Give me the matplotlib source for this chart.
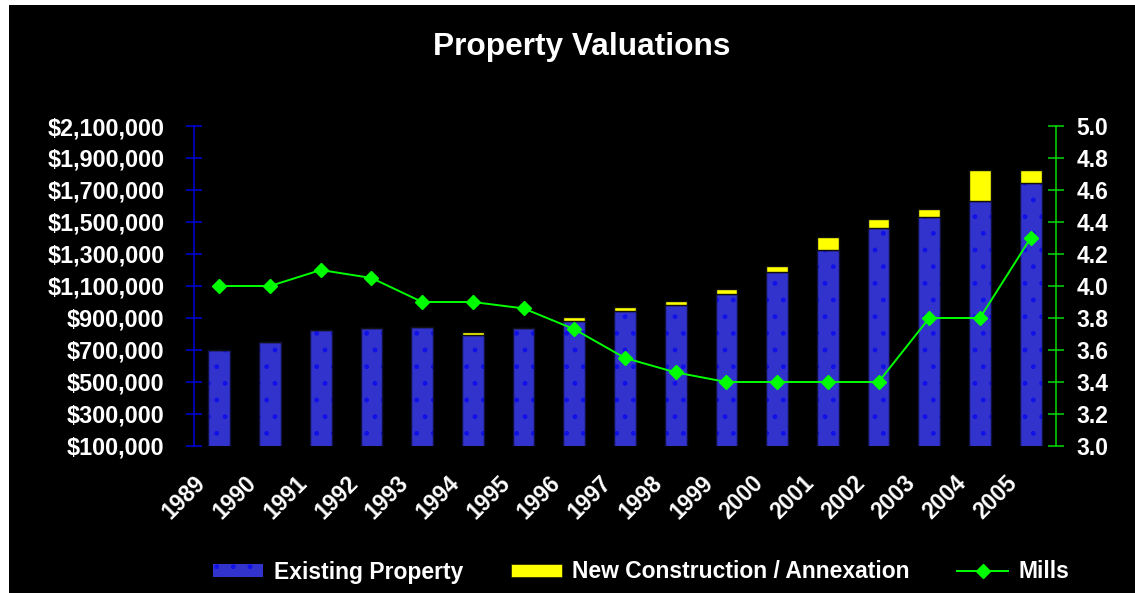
import matplotlib
matplotlib.use("Agg")
import matplotlib.pyplot as plt
import matplotlib.transforms as mtransforms
from matplotlib.patches import Patch, Rectangle
from matplotlib.lines import Line2D
from matplotlib.ticker import FuncFormatter

plt.rcParams['font.family'] = ['Liberation Sans', 'DejaVu Sans']
plt.rcParams['hatch.linewidth'] = 1.0

years = ['1989', '1990', '1991', '1992', '1993', '1994', '1995', '1996', '1997',
         '1998', '1999', '2000', '2001', '2002', '2003', '2004', '2005']
existing = [700000, 750000, 825000, 835000, 845000, 795000, 835000, 883000, 946000,
            981000, 1052000, 1190000, 1325000, 1460000, 1531000, 1629000, 1742000]
new_constr = [0, 0, 0, 0, 0, 20000, 0, 25000, 23000,
              25000, 29000, 37000, 83000, 58000, 50000, 196000, 83000]
mills = [4.0, 4.0, 4.1, 4.05, 3.9, 3.9, 3.86, 3.73, 3.55,
         3.46, 3.4, 3.4, 3.4, 3.4, 3.8, 3.8, 4.3]
value_ticks = [100000, 300000, 500000, 700000, 900000, 1100000,
               1300000, 1500000, 1700000, 1900000, 2100000]
mills_ticks = [3.0, 3.2, 3.4, 3.6, 3.8, 4.0, 4.2, 4.4, 4.6, 4.8, 5.0]

W, H = 1135, 593
fig = plt.figure(figsize=(W / 100, H / 100), dpi=100, facecolor='white')
fig.add_artist(Rectangle((9 / W, 0), 1 - 9 / W, 1 - 5 / H, transform=fig.transFigure,
                         facecolor='black', edgecolor='none', zorder=-10))

left, right, top, bottom = 194 / W, 1056 / W, 1 - 126 / H, 1 - 446 / H
ax = fig.add_axes([left, bottom, right - left, top - bottom])
ax.set_facecolor('none')

x = list(range(len(years)))
bw = 0.43
blue = '#3232CC'
ax.bar(x, existing, width=bw, color=blue, edgecolor='#1010E8', linewidth=0,
       hatch='.', zorder=2)
ax.bar(x, existing, width=bw, facecolor='none', edgecolor='#101040', linewidth=1.0, zorder=3)
ax.bar(x, new_constr, width=bw, bottom=existing, color='#FFFF00', edgecolor='#101010',
       linewidth=1.0, zorder=3)

ax.set_xlim(-0.5, len(years) - 0.5)
ax.set_ylim(value_ticks[0], value_ticks[-1])
ax.set_yticks(value_ticks)
ax.yaxis.set_major_formatter(FuncFormatter(lambda v, p: f"${v:,.0f}"))

lblue = '#0000CC'
for s in ['top', 'bottom', 'right']:
    ax.spines[s].set_visible(False)
ax.spines['left'].set_color(lblue)
ax.spines['left'].set_linewidth(1.2)
ax.tick_params(axis='y', direction='inout', length=11.5, width=1.2, color=lblue,
               labelcolor='white', labelsize=16.8, pad=15.5)
for t in ax.get_yticklabels():
    t.set_fontweight('bold')

ax.set_xticks(x)
ax.set_xticklabels(years, rotation=45, ha='right', fontsize=16.5, fontweight='bold', color='white')
ax.tick_params(axis='x', length=0, pad=18)
offset = mtransforms.ScaledTranslation(-9 / 100, 0, fig.dpi_scale_trans)
for t in ax.get_xticklabels():
    t.set_transform(t.get_transform() + offset)

ax2 = ax.twinx()
ax2.set_facecolor('none')
green = '#00FF00'
ax2.plot(x, mills, color=green, linewidth=1.4, marker='D', markersize=7,
         markeredgecolor=green, markerfacecolor=green, zorder=5)
ax2.set_ylim(mills_ticks[0], mills_ticks[-1])
ax2.set_yticks(mills_ticks)
ax2.yaxis.set_major_formatter(FuncFormatter(lambda v, p: f"{v:.1f}"))
for s in ['top', 'bottom', 'left']:
    ax2.spines[s].set_visible(False)
gcol = '#00CC00'
ax2.spines['right'].set_color(gcol)
ax2.spines['right'].set_linewidth(1.2)
ax2.tick_params(axis='y', direction='inout', length=11.5, width=1.2, color=gcol,
                labelcolor='white', labelsize=16.5, pad=9)
for t in ax2.get_yticklabels():
    t.set_fontweight('bold')

fig.text(582 / W, 1 - 47 / H, 'Property Valuations', ha='center', va='center',
         fontsize=22.8, fontweight='bold', color='white')

handles = [
    Patch(facecolor=blue, edgecolor='#1010E8', linewidth=0, hatch='.'),
    Patch(facecolor='#FFFF00', edgecolor='#202000', linewidth=0.5),
    Line2D([0], [0], color=green, linewidth=1.4, marker='D', markersize=7,
           markerfacecolor=green, markeredgecolor=green),
]
labels = ['Existing Property', 'New Construction / Annexation', 'Mills']
leg = fig.legend(handles, labels, loc='center', bbox_to_anchor=(641 / W, 1 - 572 / H),
                 ncol=3, frameon=False, prop={'size': 16.5, 'weight': 'bold'},
                 handlelength=2.2, handleheight=0.5, handletextpad=0.45,
                 columnspacing=2.1, borderaxespad=0)
for t in leg.get_texts():
    t.set_color('white')

fig.savefig('out.png', dpi=100, facecolor=fig.get_facecolor())
